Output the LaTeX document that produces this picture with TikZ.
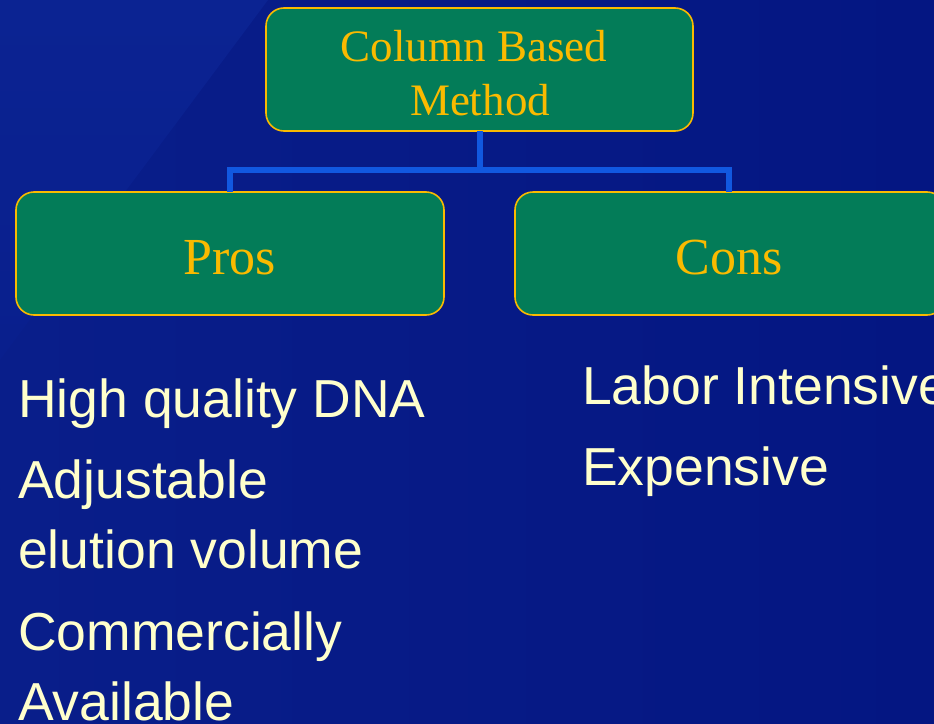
\documentclass[tikz,border=0pt]{standalone}
\usepackage{fontspec}
\setmainfont{Liberation Serif}
\newfontfamily\bulletfont{Liberation Sans}
\definecolor{bgdark}{RGB}{4,22,130}
\definecolor{bgmid}{RGB}{9,30,138}
\definecolor{bglight}{RGB}{11,35,146}
\definecolor{bgedge}{RGB}{9,31,141}
\definecolor{boxgreen}{RGB}{3,124,88}
\definecolor{boxgold}{RGB}{250,186,0}
\definecolor{linkblue}{RGB}{17,88,224}
\definecolor{cream}{RGB}{255,255,204}
\begin{document}
\begin{tikzpicture}[x=1pt,y=-1pt,
  headbox/.style={draw=boxgold, line width=1.6pt, fill=boxgreen, rounded corners=18pt},
  headtext/.style={text=boxgold, inner sep=0pt, font=\fontsize{45}{54}\selectfont, align=center},
  itemtext/.style={text=cream, inner sep=0pt, anchor=base west, font=\bulletfont\fontsize{53.5}{64}\selectfont},
  link/.style={draw=linkblue, line width=6pt, line cap=butt, line join=miter}]
\useasboundingbox (0,0) rectangle (934,723);
\begin{scope}
\clip (0,0) rectangle (934,723);
% background: navy with a faintly lighter upper-left wedge
\shade[left color=bgmid, right color=bgdark] (0,0) rectangle (934,723);
\shade[shading angle=135, top color=bglight, bottom color=bgedge] (0,0) -- (268,0) -- (0,360) -- cycle;

% boxes
\draw[headbox] (266,8) rectangle (693,131);
\draw[headbox] (16,192) rectangle (444,315);
\draw[headbox] (515,192) rectangle (945,315);
\coordinate (rootS) at (480,131);
\coordinate (prosN) at (230,192);
\coordinate (consN) at (729,192);

% tree connector
\draw[link] (rootS) -- (480,170) -| (prosN);
\draw[link] (480,170) -| (consN);

% box labels
\node[headtext, anchor=base] (root1) at (474,61) {Column Based};
\node[headtext, anchor=base] (root2) at (480,115) {Method};
\node[headtext, anchor=base, font=\fontsize{52}{62}\selectfont] (pros) at (230,274) {Pros};
\node[headtext, anchor=base, font=\fontsize{52}{62}\selectfont] (cons) at (729,274) {Cons};

% lists
\node[itemtext] (p1) at (18,417) {High quality DNA};
\node[itemtext] (p2a) at (18,498) {Adjustable};
\node[itemtext] (p2b) at (18,568) {elution volume};
\node[itemtext] (p3a) at (18,650) {Commercially};
\node[itemtext] (p3b) at (18,720) {Available};
\node[itemtext] (c1) at (582,404) {Labor Intensive};
\node[itemtext] (c2) at (582,485) {Expensive};
\end{scope}
\end{tikzpicture}
\end{document}
